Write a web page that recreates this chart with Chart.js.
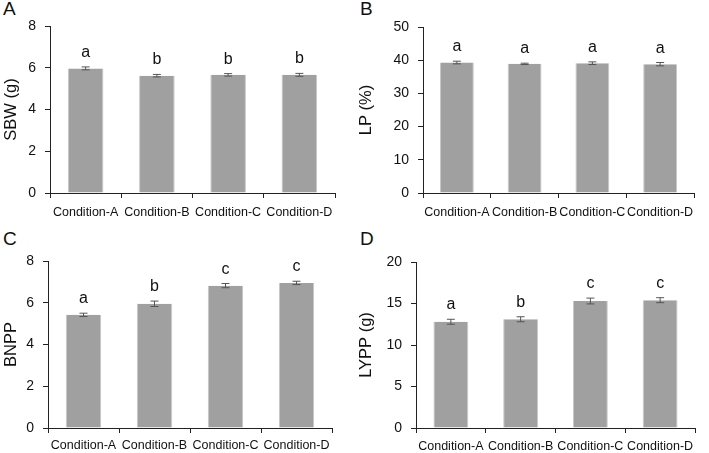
<!DOCTYPE html>
<html>
<head>
<meta charset="utf-8">
<script src="https://cdn.jsdelivr.net/npm/chart.js@4"></script>
<style>
html,body{margin:0;padding:0;background:#fff;width:709px;height:453px;overflow:hidden;}
.panel{position:absolute;}
.letter{position:absolute;font-family:"Liberation Sans",Arial,sans-serif;font-size:19px;color:#111;}
</style>
</head>
<body>
<div class="letter" style="left:3px;top:-2px;">A</div>
<div class="letter" style="left:360px;top:-2px;">B</div>
<div class="letter" style="left:3px;top:228px;">C</div>
<div class="letter" style="left:360px;top:228px;">D</div>
<div class="panel" style="left:0;top:0;width:355px;height:225px;"><canvas id="cA"></canvas></div>
<div class="panel" style="left:355px;top:0;width:354px;height:225px;"><canvas id="cB"></canvas></div>
<div class="panel" style="left:0;top:225px;width:355px;height:228px;"><canvas id="cC"></canvas></div>
<div class="panel" style="left:355px;top:225px;width:354px;height:228px;"><canvas id="cD"></canvas></div>
<script>
const categories = ['Condition-A', 'Condition-B', 'Condition-C', 'Condition-D'];

const sbwValues = [5.97, 5.62, 5.66, 5.66];
const sbwErrors = [0.07, 0.06, 0.06, 0.07];
const sbwLetters = ['a', 'b', 'b', 'b'];
const sbwTicks = [0, 2, 4, 6, 8];

const lpValues = [39.3, 38.9, 39.1, 38.8];
const lpErrors = [0.4, 0.2, 0.4, 0.5];
const lpLetters = ['a', 'a', 'a', 'a'];
const lpTicks = [0, 10, 20, 30, 40, 50];

const bnppValues = [5.42, 5.95, 6.82, 6.95];
const bnppErrors = [0.08, 0.13, 0.10, 0.08];
const bnppLetters = ['a', 'b', 'c', 'c'];
const bnppTicks = [0, 2, 4, 6, 8];

const lyppValues = [12.8, 13.1, 15.3, 15.4];
const lyppErrors = [0.30, 0.30, 0.35, 0.30];
const lyppLetters = ['a', 'b', 'c', 'c'];
const lyppTicks = [0, 5, 10, 15, 20];

const FONT = '"Liberation Sans", Arial, sans-serif';

const errPlugin = {
  id: 'errLetters',
  afterDatasetsDraw(chart, args, opts) {
    const ctx = chart.ctx;
    const meta = chart.getDatasetMeta(0);
    const ys = chart.scales.y;
    const vals = chart.data.datasets[0].data;
    ctx.save();
    meta.data.forEach((bar, i) => {
      const v = vals[i], e = opts.errors[i];
      const x = bar.x;
      const yT = ys.getPixelForValue(v + e);
      const yB = ys.getPixelForValue(v - e);
      ctx.strokeStyle = '#555';
      ctx.lineWidth = 1;
      ctx.beginPath();
      ctx.moveTo(x, yT); ctx.lineTo(x, yB);
      ctx.moveTo(x - 4, yT); ctx.lineTo(x + 4, yT);
      ctx.moveTo(x - 4, yB); ctx.lineTo(x + 4, yB);
      ctx.stroke();
      ctx.fillStyle = '#111';
      ctx.font = '16px ' + FONT;
      ctx.textAlign = 'center';
      ctx.textBaseline = 'alphabetic';
      ctx.fillText(opts.letters[i], x, yT - 10);
    });
    ctx.restore();
  }
};

function makeChart(id, values, errors, letters, ticks, title, yWidth, xHeight, padTop, padRight, xPad) {
  const maxV = ticks[ticks.length - 1];
  const step = ticks[1] - ticks[0];
  return new Chart(document.getElementById(id), {
    type: 'bar',
    data: {
      labels: categories,
      datasets: [{
        data: values,
        backgroundColor: '#a0a0a0',
        borderColor: '#c8c8c8',
        borderWidth: {left: 1, right: 1, top: 0, bottom: 0},
        borderSkipped: false,
        barPercentage: 1,
        categoryPercentage: 0.5
      }]
    },
    options: {
      responsive: true,
      maintainAspectRatio: false,
      animation: false,
      layout: {padding: {top: padTop, right: padRight, left: 0, bottom: 0}},
      plugins: {
        legend: {display: false},
        tooltip: {enabled: false},
        errLetters: {errors: errors, letters: letters}
      },
      scales: {
        x: {
          grid: {display: true, offset: true, drawOnChartArea: false, drawTicks: true, tickLength: 5, color: '#222'},
          border: {display: true, color: '#222', width: 1},
          ticks: {color: '#111', font: {family: FONT, size: 12.5}, maxRotation: 0, autoSkip: false, padding: xPad},
          afterFit(s) { s.height = xHeight; }
        },
        y: {
          min: 0, max: maxV,
          grid: {display: true, drawOnChartArea: false, drawTicks: true, tickLength: 5, color: '#222'},
          border: {display: true, color: '#222', width: 1},
          ticks: {stepSize: step, color: '#111', font: {family: FONT, size: 14}, padding: 9},
          title: {display: true, text: title, color: '#111', font: {family: FONT, size: 16.5}, padding: {top: 2, bottom: 2}},
          afterFit(s) { s.width = yWidth; }
        }
      }
    },
    plugins: [errPlugin]
  });
}

makeChart('cA', sbwValues, sbwErrors, sbwLetters, sbwTicks, 'SBW (g)', 50, 32, 26, 20, 7);
makeChart('cB', lpValues, lpErrors, lpLetters, lpTicks, 'LP (%)', 68, 32, 27, 15, 7);
makeChart('cC', bnppValues, bnppErrors, bnppLetters, bnppTicks, 'BNPP', 48, 25, 36, 23, 5);
makeChart('cD', lyppValues, lyppErrors, lyppLetters, lyppTicks, 'LYPP (g)', 61, 25, 37, 14, 6);
</script>
</body>
</html>
